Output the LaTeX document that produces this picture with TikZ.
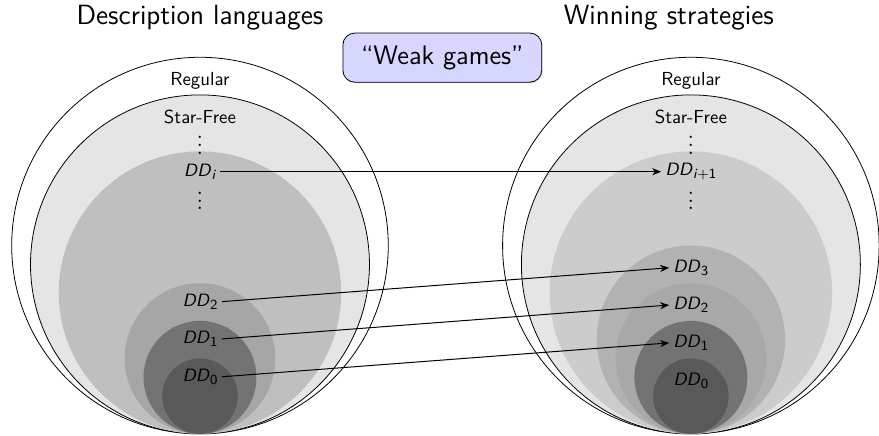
\documentclass[tikz,border=0pt]{standalone}
\usepackage{tikz}
\usetikzlibrary{arrows.meta,positioning,shadows}
% level names: sans italic DD with a small sans subscript
\newcommand{\lvlname}[1]{\textit{DD}\raisebox{-0.35ex}{\scriptsize #1}}
\tikzset{
  >=Stealth,
  font=\sffamily,
  outer/.style={draw=black,line width=0.4pt,fill=white},
  band/.style={draw=black,line width=0.4pt,fill=black!10},
  lvl/.style={inner sep=2pt,font=\sffamily\small},
  dots/.style={inner sep=0pt,font=\fontsize{12}{14}\selectfont},
  cls/.style={font=\sffamily\fontsize{9.5}{11}\selectfont},
  ttl/.style={font=\sffamily\fontsize{14}{16}\selectfont},
  tagbox/.style={draw=black,line width=0.4pt,rounded corners=6pt,fill=blue!16,
                 minimum width=35.2mm,minimum height=8.7mm,
                 font=\sffamily\fontsize{13.5}{16}\selectfont,
                 drop shadow={opacity=0.25,shadow xshift=0.4pt,shadow yshift=-0.6pt}},
  map/.style={-{Stealth[length=4.5pt,width=3.6pt]},line width=0.5pt},
}

\begin{document}
\begin{tikzpicture}
  \useasboundingbox (-3.54,-0.036) rectangle (12.02,7.68);

  % left: description languages
  \draw[outer] (0,3.333) circle (3.333);
  \draw[band] (0,3) circle (3);
  \fill[black!25] (0,2.5) circle (2.5);
  \fill[black!35] (0,1.333) circle (1.333);
  \fill[black!55] (0,1) circle (1);
  \fill[black!65] (0,0.667) circle (0.667);

  % right: winning strategies
  \begin{scope}[xshift=8.69cm]
    \draw[outer] (0,3.333) circle (3.333);
    \draw[band] (0,3) circle (3);
    \fill[black!20] (0,2.5) circle (2.5);
    \fill[black!30] (0,1.667) circle (1.667);
    \fill[black!34] (0,1.333) circle (1.333);
    \fill[black!55] (0,1) circle (1);
    \fill[black!65] (0,0.667) circle (0.667);
  \end{scope}

  \node[ttl] (tl) at (0,7.36) {Description languages};
  \node[ttl] (tr) at (8.30,7.36) {Winning strategies};
  \node[tagbox] (weak) at (4.29,6.66) {``Weak games''};

  % left labels
  \node[cls] (regl) at (0,6.25) {Regular};
  \node[cls] (sfl) at (0,5.61) {Star-Free};
  \node[dots] (vl1) at (0,5.22) {$\vdots$};
  \node[lvl] (dli) at (0,4.64) {\lvlname{\textit{i}}};
  \node[dots] (vl2) at (0,4.23) {$\vdots$};
  \node[lvl] (dl2) at (0,2.34) {\lvlname{2}};
  \node[lvl] (dl1) at (0,1.68) {\lvlname{1}};
  \node[lvl] (dl0) at (0,1.01) {\lvlname{0}};

  % right labels
  \node[cls] (regr) at (8.69,6.25) {Regular};
  \node[cls] (sfr) at (8.69,5.61) {Star-Free};
  \node[dots] (vr1) at (8.69,5.22) {$\vdots$};
  \node[lvl] (dri) at (8.69,4.64) {\lvlname{\textit{i}+1}};
  \node[dots] (vr2) at (8.69,4.23) {$\vdots$};
  \node[lvl] (dr3) at (8.69,2.94) {\lvlname{3}};
  \node[lvl] (dr2) at (8.69,2.28) {\lvlname{2}};
  \node[lvl] (dr1) at (8.69,1.61) {\lvlname{1}};
  \node[lvl] (dr0) at (8.69,0.94) {\lvlname{0}};

  \draw[map] (dli.east) -- (dri.west);
  \draw[map] (dl2.east) -- (dr3.west);
  \draw[map] (dl1.east) -- (dr2.west);
  \draw[map] (dl0.east) -- (dr1.west);
\end{tikzpicture}
\end{document}
